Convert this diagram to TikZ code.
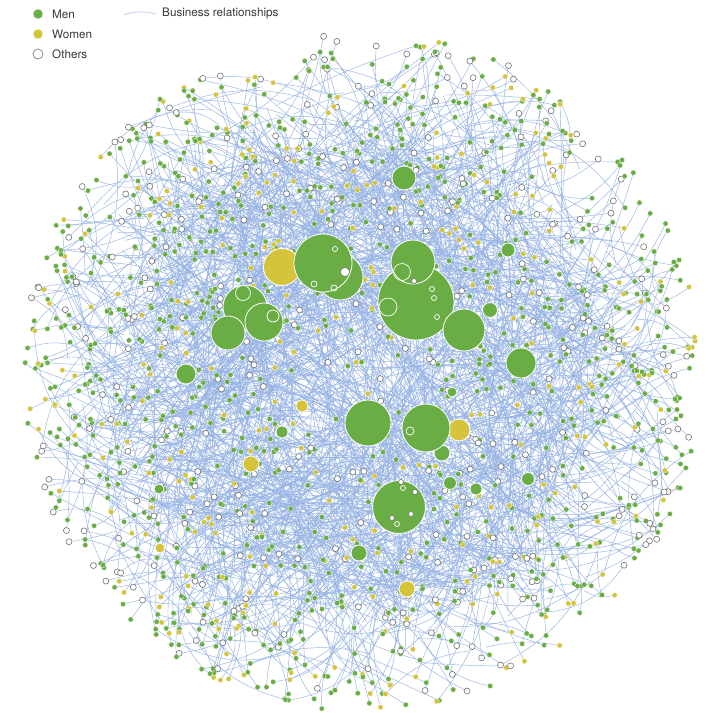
\documentclass[tikz,border=0pt]{standalone}
\usepackage{fontspec}
\setmainfont{TeX Gyre Heros}
\definecolor{gn}{HTML}{6AAD45}
\definecolor{yl}{HTML}{D4C43C}
\definecolor{ed}{HTML}{96B3E4}
\definecolor{txt}{HTML}{3A3A3A}
\begin{document}
\begin{tikzpicture}[x=1pt,y=-1pt,
  edge/.style={draw=ed,line width=0.45pt},
  mn/.style={circle,fill=gn,draw=white,line width=0.3pt,inner sep=0pt,minimum size=5.4pt},
  wm/.style={circle,fill=yl,draw=white,line width=0.3pt,inner sep=0pt,minimum size=5.4pt},
  ot/.style={circle,fill=white,draw=black!55,line width=0.6pt,inner sep=0pt,minimum size=6pt},
  bigm/.style={circle,fill=gn,draw=white,line width=0.8pt,inner sep=0pt,minimum size=#1},
  bigw/.style={circle,fill=yl,draw=white,line width=0.8pt,inner sep=0pt,minimum size=#1},
  ring/.style={circle,draw=white,line width=0.7pt,inner sep=0pt,minimum size=#1},
  lab/.style={anchor=west,text=txt,font=\fontsize{11.7}{14}\selectfont,inner sep=0pt}]
\useasboundingbox[fill=white] (0,0) rectangle (712,713);

\pgfmathsetseed{2718}
\begin{scope}[shift={(362,372)}]
% long interior relationships
\foreach \i in {1,...,620}{%
  \pgfmathsetmacro\pR{255*sqrt(rnd)}%
  \pgfmathsetmacro\pA{360*rnd}%
  \pgfmathsetmacro\qR{255*sqrt(rnd)}%
  \pgfmathsetmacro\qA{\pA+200*(rnd-0.5)}%
  \pgfmathsetmacro\pB{80*(rnd-0.5)}%
  \coordinate (u) at (\pA:\pR);
  \coordinate (v) at (\qA:\qR);
  \draw[edge] (u) to[bend left=\pB] (v);
}
% hub relationships
\foreach \hx/\hy/\hn in {322/262/40,340/276/25,416/300/45,413/262/20,245/305/25,264/322/18,228/333/18,
   368/423/35,426/428/35,398/507/30,465/330/22,521/363/15,283/267/15,404/178/12,186/374/10,
   459/430/10,442/453/8,490/310/8,508/250/8,359/553/8,407/589/6,251/464/8}{%
  \foreach \k in {1,...,\hn}{%
    \pgfmathsetmacro\pR{290*sqrt(rnd)}%
    \pgfmathsetmacro\pA{360*rnd}%
    \pgfmathsetmacro\pB{70*(rnd-0.5)}%
    \coordinate (hs) at (\hx-362,\hy-372);
    \coordinate (he) at (\pA:\pR);
    \draw[edge] (hs) to[bend left=\pB] (he);
  }
}
% relationships of the small nodes (pass 1)
\pgfmathsetseed{31415}
\foreach \i in {1,...,1650}{%
  \pgfmathsetmacro\pR{340*pow(rnd,0.42)}%
  \pgfmathsetmacro\pA{360*rnd}%
  \pgfmathsetmacro\pC{rnd}%
  \pgfmathsetmacro\qA{\pA+60*(rnd-0.5)}%
  \pgfmathsetmacro\qR{\pR*(0.55+0.38*rnd)}%
  \pgfmathsetmacro\pB{60*(rnd-0.5)}%
  \pgfmathtruncatemacro\skp{(((362+\pR*cos(\pA))<300) && ((372+\pR*sin(\pA))<72)) ? 1 : 0}%
  \ifnum\skp=0
    \coordinate (s) at (\pA:\pR);
    \coordinate (t) at (\qA:\qR);
    \draw[edge] (s) to[bend left=\pB] (t);
  \fi
}
% small nodes (pass 2, same sequence)
\pgfmathsetseed{31415}
\foreach \i in {1,...,1650}{%
  \pgfmathsetmacro\pR{340*pow(rnd,0.42)}%
  \pgfmathsetmacro\pA{360*rnd}%
  \pgfmathsetmacro\pC{rnd}%
  \pgfmathsetmacro\qA{\pA+60*(rnd-0.5)}%
  \pgfmathsetmacro\qR{\pR*(0.55+0.38*rnd)}%
  \pgfmathsetmacro\pB{60*(rnd-0.5)}%
  \pgfmathtruncatemacro\skp{(((362+\pR*cos(\pA))<300) && ((372+\pR*sin(\pA))<72)) ? 1 : 0}%
  \ifnum\skp=0
    \ifdim\pC pt<0.58pt
      \node[mn] (n) at (\pA:\pR) {};
    \else\ifdim\pC pt<0.8pt
      \node[ot] (n) at (\pA:\pR) {};
    \else
      \node[wm] (n) at (\pA:\pR) {};
    \fi\fi
  \fi
}
\end{scope}

% legend
\node[mn,minimum size=10pt] (lm) at (38,14) {};
\node[wm,minimum size=10pt] (lw) at (38,34) {};
\node[ot,minimum size=10pt] (lo) at (38,54) {};
\node[lab] (tm) at (52,14) {Men};
\node[lab] (tw) at (52,34) {Women};
\node[lab] (to) at (52,54) {Others};
\coordinate (la) at (124,15);
\coordinate (lb) at (156,14);
\draw[edge] (la) .. controls (134,11) and (146,11) .. (lb);
\node[lab] (tb) at (162,14) {Business relationships};

% large nodes
\node[bigm=24pt] (h1) at (404,178) {};
\node[bigw=37pt] (y1) at (282,267) {};
\node[bigm=46pt] (g2) at (340,277) {};
\node[bigm=58pt] (g1) at (323,263) {};
\node[ot,minimum size=9pt,line width=0.5pt] (w1) at (345,272) {};
\node[ring=6pt] (r1) at (334,288) {};
\node[ring=6pt] (r2) at (314,284) {};
\node[ring=5pt] (r3) at (335,249) {};
\node[bigm=76pt] (g4) at (416,302) {};
\node[bigm=44pt] (g3) at (413,262) {};
\node[ring=17pt] (r4) at (402,272) {};
\node[ring=18pt] (r5) at (388,307) {};
\node[ring=5pt] (r6) at (432,289) {};
\node[ring=5pt] (r7) at (437,317) {};
\node[ring=5pt] (r8) at (434,298) {};
\node[ot,minimum size=5pt] (w2) at (414,281) {};
\node[bigm=42pt] (g5) at (464,330) {};
\node[bigm=15pt] (g6) at (490,310) {};
\node[bigm=14pt] (g7) at (508,250) {};
\node[bigm=30pt] (g8) at (521,363) {};
\node[bigm=44pt] (g9) at (245,307) {};
\node[bigm=38pt] (g10) at (264,322) {};
\node[bigm=34pt] (g11) at (228,333) {};
\node[ring=15pt] (r9) at (243,293) {};
\node[bigm=12pt] (g12) at (273,316) {};
\node[bigm=20pt] (g13) at (186,374) {};
\node[bigm=46pt] (g14) at (368,423) {};
\node[bigw=22pt] (y2) at (459,430) {};
\node[bigm=16pt] (g15) at (442,453) {};
\node[bigm=48pt] (g16) at (426,428) {};
\node[ring=8pt] (r10) at (410,431) {};
\node[bigm=53pt] (g17) at (399,507) {};
\node[ot,minimum size=5pt] (w3) at (401,482) {};
\node[ot,minimum size=5pt] (w4) at (415,492) {};
\node[ot,minimum size=5pt] (w5) at (392,518) {};
\node[ot,minimum size=5pt] (w6) at (411,514) {};
\node[ring=5pt] (r11) at (403,488) {};
\node[ring=5pt] (r12) at (397,524) {};
\node[bigm=13pt] (g18) at (450,483) {};
\node[bigm=12pt] (g19) at (476,489) {};
\node[bigm=10pt] (g20) at (452,392) {};
\node[bigm=16pt] (g21) at (359,553) {};
\node[bigw=16pt] (y3) at (407,589) {};
\node[bigw=16pt] (y4) at (251,464) {};
\node[bigw=12pt] (y5) at (302,406) {};
\node[bigm=12pt] (g22) at (282,432) {};
\node[bigm=13pt] (g23) at (528,479) {};
\node[bigw=10pt] (y6) at (160,548) {};
\node[bigm=10pt] (g24) at (159,489) {};
\end{tikzpicture}
\end{document}
